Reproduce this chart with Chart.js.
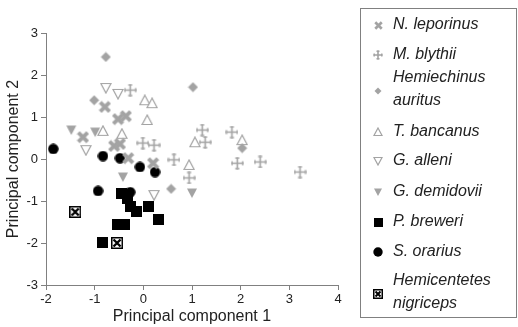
<!DOCTYPE html>
<html>
<head>
<meta charset="utf-8">
<script src="https://cdn.jsdelivr.net/npm/chart.js@4.4.0/dist/chart.umd.min.js"></script>
<style>
html, body { margin: 0; padding: 0; background: #fff; }
#wrap { width: 518px; height: 327px; position: relative; }
</style>
</head>
<body>
<div id="wrap"><canvas id="pca"></canvas></div>
<script>
// [PC1, PC2] per specimen
const nLeporinus = [[-0.79, 1.24], [-0.52, 0.95], [-0.36, 1.02], [-1.24, 0.52], [-0.60, 0.31], [-0.48, 0.36], [-0.31, 0.02], [0.20, -0.10]];
const mBlythii = [[-0.27, 1.64], [-0.01, 0.38], [0.22, 0.33], [0.63, -0.02], [0.94, -0.45], [1.21, 0.69], [1.27, 0.40], [1.82, 0.64], [1.93, -0.10], [2.40, -0.07], [3.22, -0.31]];
const hAuritus = [[-0.77, 2.43], [-1.01, 1.40], [1.02, 1.71], [2.03, 0.26], [0.57, -0.71]];
const tBancanus = [[0.03, 1.40], [0.18, 1.33], [0.08, 0.93], [-0.83, 0.67], [-0.44, 0.60], [1.06, 0.40], [2.03, 0.45], [0.94, -0.14]];
const gAlleni = [[-0.77, 1.69], [-0.52, 1.55], [-1.18, 0.21], [0.22, -0.86]];
const gDemidovii = [[-1.48, 0.69], [-0.99, 0.64], [-0.42, -0.43], [1.00, -0.81]];
const pBreweri = [[-0.44, -0.81], [-0.33, -0.95], [-0.27, -1.12], [-0.15, -1.26], [0.10, -1.12], [0.32, -1.43], [-0.54, -1.57], [-0.38, -1.55], [-0.83, -1.98]];
const sOrarius = [[-1.85, 0.24], [-0.83, 0.07], [-0.48, 0.02], [-0.07, -0.19], [0.24, -0.31], [-0.93, -0.76], [-0.27, -0.79]];
const hNigriceps = [[-1.40, -1.26], [-0.54, -2.00]];

const xTicks = [-2, -1, 0, 1, 2, 3, 4];
const yTicks = [-3, -2, -1, 0, 1, 2, 3];

const GREY = '#a3a3a3';

// draw a marker glyph into a small canvas so it can be used as a pointStyle
function makeMarker(kind, s) {
    const c = document.createElement('canvas');
    c.width = s; c.height = s;
    const g = c.getContext('2d');
    const m = s / 2;
    g.fillStyle = GREY;
    g.strokeStyle = GREY;
    if (kind === 'xcross') {
        g.lineWidth = s * 0.3;
        g.beginPath();
        g.moveTo(s * 0.14, s * 0.14); g.lineTo(s * 0.86, s * 0.86);
        g.moveTo(s * 0.86, s * 0.14); g.lineTo(s * 0.14, s * 0.86);
        g.stroke();
    } else if (kind === 'potent') {
        g.lineWidth = 1.6;
        const a = 0.5, b = s > 11 ? 2 : 1.5;
        g.beginPath();
        g.moveTo(a, m); g.lineTo(s - a, m);
        g.moveTo(m, a); g.lineTo(m, s - a);
        g.stroke();
        g.lineWidth = 1.4;
        g.beginPath();
        g.moveTo(a + 0.7, m - b); g.lineTo(a + 0.7, m + b);
        g.moveTo(s - a - 0.7, m - b); g.lineTo(s - a - 0.7, m + b);
        g.moveTo(m - b, a + 0.7); g.lineTo(m + b, a + 0.7);
        g.moveTo(m - b, s - a - 0.7); g.lineTo(m + b, s - a - 0.7);
        g.stroke();
    } else if (kind === 'diamond') {
        g.beginPath();
        g.moveTo(m, 0.5); g.lineTo(s - 0.5, m); g.lineTo(m, s - 0.5); g.lineTo(0.5, m);
        g.closePath(); g.fill();
    } else if (kind === 'triUp' || kind === 'triDown' || kind === 'triDownFill') {
        g.lineWidth = 1.2;
        g.beginPath();
        if (kind === 'triUp') {
            g.moveTo(m, 1); g.lineTo(s - 1, s - 1.5); g.lineTo(1, s - 1.5);
        } else {
            g.moveTo(1, 1.5); g.lineTo(s - 1, 1.5); g.lineTo(m, s - 1);
        }
        g.closePath();
        if (kind === 'triDownFill') { g.fill(); } else { g.fillStyle = '#fff'; g.fill(); g.stroke(); }
    } else if (kind === 'square') {
        g.fillStyle = '#000';
        g.fillRect(0, 0, s, s);
    } else if (kind === 'circle') {
        g.fillStyle = '#000';
        g.beginPath(); g.arc(m, m, m - 0.3, 0, Math.PI * 2); g.fill();
    } else if (kind === 'boxX') {
        g.fillStyle = '#000';
        g.fillRect(0, 0, s, s);
        g.fillStyle = '#fff';
        g.fillRect(1.5, 1.5, s - 3, s - 3);
        g.strokeStyle = '#000';
        g.lineWidth = s * 0.2;
        g.beginPath();
        g.moveTo(2.5, 2.5); g.lineTo(s - 2.5, s - 2.5);
        g.moveTo(s - 2.5, 2.5); g.lineTo(2.5, s - 2.5);
        g.stroke();
    }
    return c;
}

const series = [
    { name: ['N. leporinus'], pts: nLeporinus, kind: 'xcross', size: 13, lsize: 9 },
    { name: ['M. blythii'], pts: mBlythii, kind: 'potent', size: 13, lsize: 10 },
    { name: ['Hemiechinus', 'auritus'], pts: hAuritus, kind: 'diamond', size: 11, lsize: 8 },
    { name: ['T. bancanus'], pts: tBancanus, kind: 'triUp', size: 12, lsize: 10 },
    { name: ['G. alleni'], pts: gAlleni, kind: 'triDown', size: 12, lsize: 10 },
    { name: ['G. demidovii'], pts: gDemidovii, kind: 'triDownFill', size: 12, lsize: 10 },
    { name: ['P. breweri'], pts: pBreweri, kind: 'square', size: 11, lsize: 9 },
    { name: ['S. orarius'], pts: sOrarius, kind: 'circle', size: 11, lsize: 10 },
    { name: ['Hemicentetes', 'nigriceps'], pts: hNigriceps, kind: 'boxX', size: 12, lsize: 10 }
];

// boxed legend on the right
const legendRows = [25, 55, 91, 132, 161, 192, 222, 252, 294];
const boxLegend = {
    id: 'boxLegend',
    afterDraw(chart) {
        const ctx = chart.ctx;
        ctx.save();
        ctx.strokeStyle = '#808080';
        ctx.lineWidth = 1;
        ctx.strokeRect(360.5, 8.5, 156, 309);
        ctx.font = 'italic 16px "Liberation Sans", Arial, sans-serif';
        ctx.fillStyle = '#222';
        ctx.textBaseline = 'middle';
        series.forEach((s, i) => {
            const y = legendRows[i];
            const img = makeMarker(s.kind, s.lsize);
            ctx.drawImage(img, Math.round(378 - s.lsize / 2), Math.round(y - s.lsize / 2));
            if (s.name.length === 1) {
                ctx.fillText(s.name[0], 393, y);
            } else {
                ctx.fillText(s.name[0], 393, y - 13);
                ctx.fillText(s.name[1], 393, y + 10);
            }
        });
        ctx.restore();
    }
};

const axisColor = '#808080';
const tickFont = { family: '"Liberation Sans", Arial, sans-serif', size: 13 };
const titleFont = { family: '"Liberation Sans", Arial, sans-serif', size: 16 };

new Chart(document.getElementById('pca'), {
    type: 'scatter',
    data: {
        datasets: series.map(s => ({
            label: s.name.join(' '),
            data: s.pts.map(p => ({ x: p[0], y: p[1] })),
            pointStyle: makeMarker(s.kind, s.size),
            pointRadius: s.size / 2
        }))
    },
    options: {
        responsive: true,
        maintainAspectRatio: false,
        animation: false,
        layout: { padding: { top: 33, right: 180, bottom: 0, left: 0 } },
        plugins: { legend: { display: false }, tooltip: { enabled: false } },
        scales: {
            x: {
                min: -2, max: 4,
                afterBuildTicks: s => { s.ticks = xTicks.map(v => ({ value: v })); },
                afterFit: s => { s.height = 42; },
                ticks: { color: '#222', font: tickFont, padding: 2, maxRotation: 0 },
                grid: { drawOnChartArea: false, tickLength: 5, color: axisColor },
                border: { color: axisColor },
                title: { display: true, text: 'Principal component 1', color: '#222', font: titleFont, padding: { top: 0, bottom: 1 } }
            },
            y: {
                min: -3, max: 3,
                afterBuildTicks: s => { s.ticks = yTicks.map(v => ({ value: v })); },
                afterFit: s => { s.width = 46; },
                ticks: { color: '#222', font: tickFont, padding: 3 },
                grid: { drawOnChartArea: false, tickLength: 5, color: axisColor },
                border: { color: axisColor },
                title: { display: true, text: 'Principal component 2', color: '#222', font: titleFont, padding: { top: 4, bottom: 0 } }
            }
        }
    },
    plugins: [boxLegend]
});
</script>
</body>
</html>
